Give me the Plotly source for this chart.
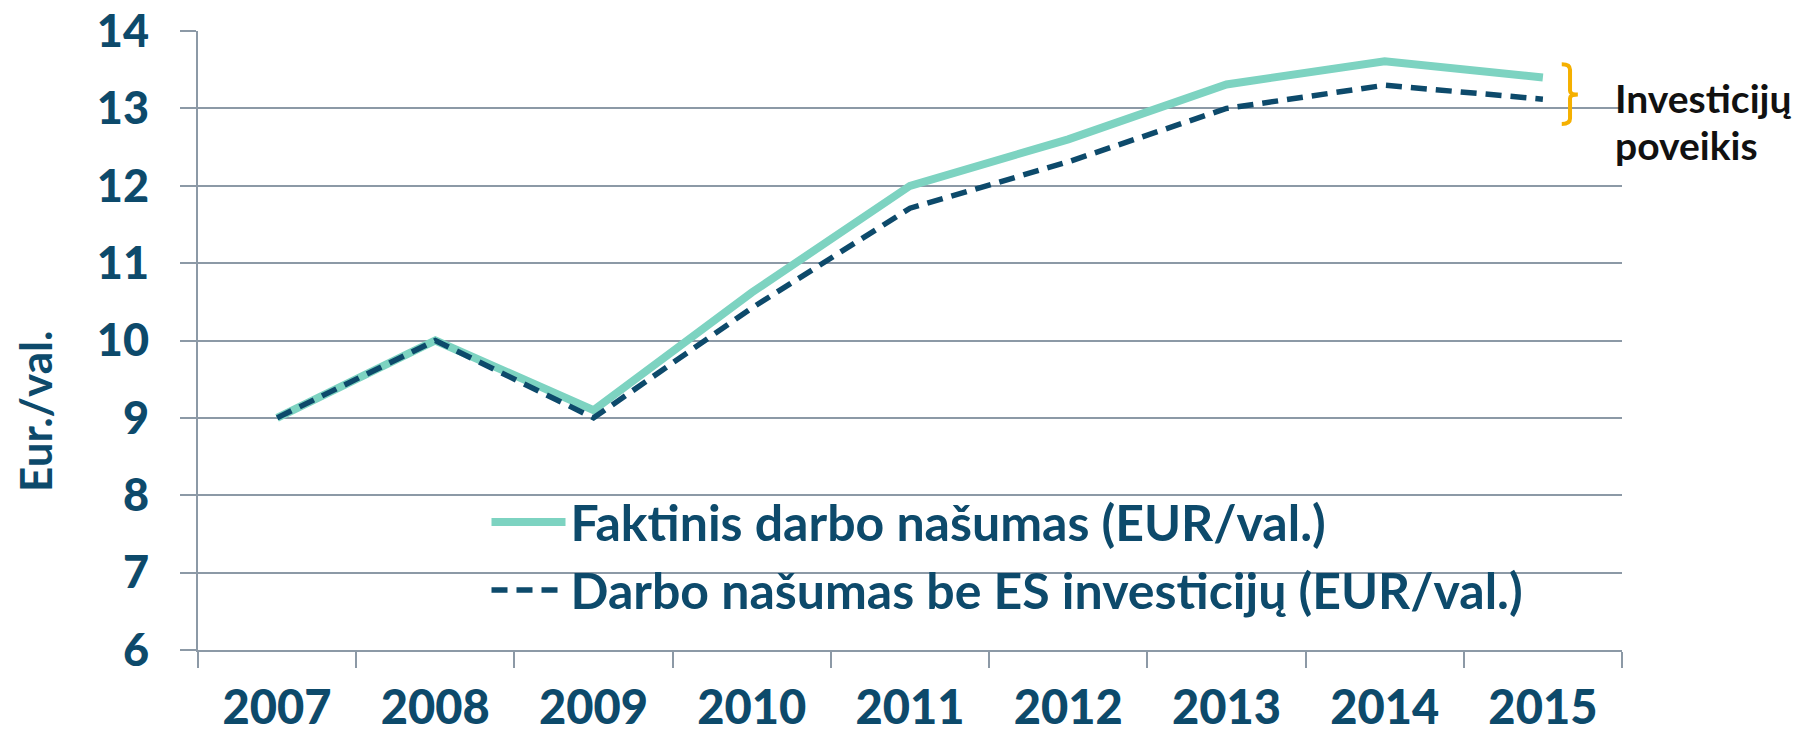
import plotly.graph_objects as go

years = ["2007", "2008", "2009", "2010", "2011", "2012", "2013", "2014", "2015"]
faktinis = [9.0, 10.0, 9.1, 10.62, 12.0, 12.6, 13.31, 13.61, 13.4]
be_es = [9.0, 10.0, 9.0, 10.42, 11.71, 12.31, 13.0, 13.3, 13.12]
name_fakt = "Faktinis darbo našumas (EUR/val.)"
name_be = "Darbo našumas be ES investicijų (EUR/val.)"
y_ticks = [6, 7, 8, 9, 10, 11, 12, 13, 14]

DARK = "#0D4A6B"
TEAL = "#7DD3C1"
GRID = "#8C99A6"
ORANGE = "#F5B000"
FONT = "Lato"

fig = go.Figure()
fig.add_trace(go.Scatter(x=years, y=faktinis, mode="lines", name=name_fakt,
                         line=dict(color=TEAL, width=8)))
fig.add_trace(go.Scatter(x=years, y=be_es, mode="lines", name=name_be,
                         line=dict(color=DARK, width=5.5, dash="16px,9px")))

fig.update_layout(
    width=1800, height=729,
    margin=dict(l=190, r=186, t=23, b=87),
    paper_bgcolor="white", plot_bgcolor="white",
    font=dict(family=FONT, color=DARK, size=44, weight="bold"),
    showlegend=True,
    legend=dict(x=0.2026, y=0.152, xanchor="left", yanchor="middle",
                bgcolor="rgba(0,0,0,0)", borderwidth=0,
                font=dict(family=FONT, size=50, color=DARK, weight="bold"),
                itemwidth=74, tracegroupgap=0),
)
fig.update_xaxes(type="category", range=[-0.5, 8.5], automargin=False,
                 tickson="boundaries", ticks="outside", ticklen=16,
                 tickwidth=2, tickcolor=GRID, showline=True, linecolor=GRID, linewidth=2,
                 showgrid=False, ticklabelstandoff=16,
                 tickfont=dict(family=FONT, size=47, color=DARK, weight=900))
fig.update_yaxes(range=[5.999, 14.001], automargin=False, tickvals=y_ticks,
                 ticks="outside", ticklen=16, tickwidth=2,
                 tickcolor=GRID, showline=True, linecolor=GRID, linewidth=2,
                 showgrid=True, gridcolor=GRID, gridwidth=2, zeroline=False,
                 ticklabelstandoff=22, ticklabeloverflow="allow",
                 tickfont=dict(family=FONT, size=45, color=DARK, weight=900))

# y axis title
fig.add_annotation(text="Eur./val.", textangle=-90, xref="paper", yref="paper",
                   x=-0.115, y=0.385, xanchor="center", yanchor="middle", showarrow=False,
                   font=dict(family=FONT, size=44, color=DARK, weight="bold"))

# bracket showing the investment effect
fig.add_shape(type="path", xref="paper", yref="y",
              path="M 0.9577,13.57 Q 0.9635,13.57 0.9635,13.50 L 0.9635,13.23 "
                   "Q 0.9635,13.18 0.969,13.18 Q 0.9635,13.18 0.9635,13.13 "
                   "L 0.9635,12.87 Q 0.9635,12.80 0.9577,12.80",
              line=dict(color=ORANGE, width=4))

fig.add_annotation(text="Investicijų", xref="paper", yref="y", x=0.9937, y=13.14,
                   xanchor="left", yanchor="middle", showarrow=False,
                   font=dict(family=FONT, size=39, color="#111111", weight="bold"))
fig.add_annotation(text="poveikis", xref="paper", yref="y", x=0.9937, y=12.53,
                   xanchor="left", yanchor="middle", showarrow=False,
                   font=dict(family=FONT, size=39, color="#111111", weight="bold"))

fig.write_html("out.html")
